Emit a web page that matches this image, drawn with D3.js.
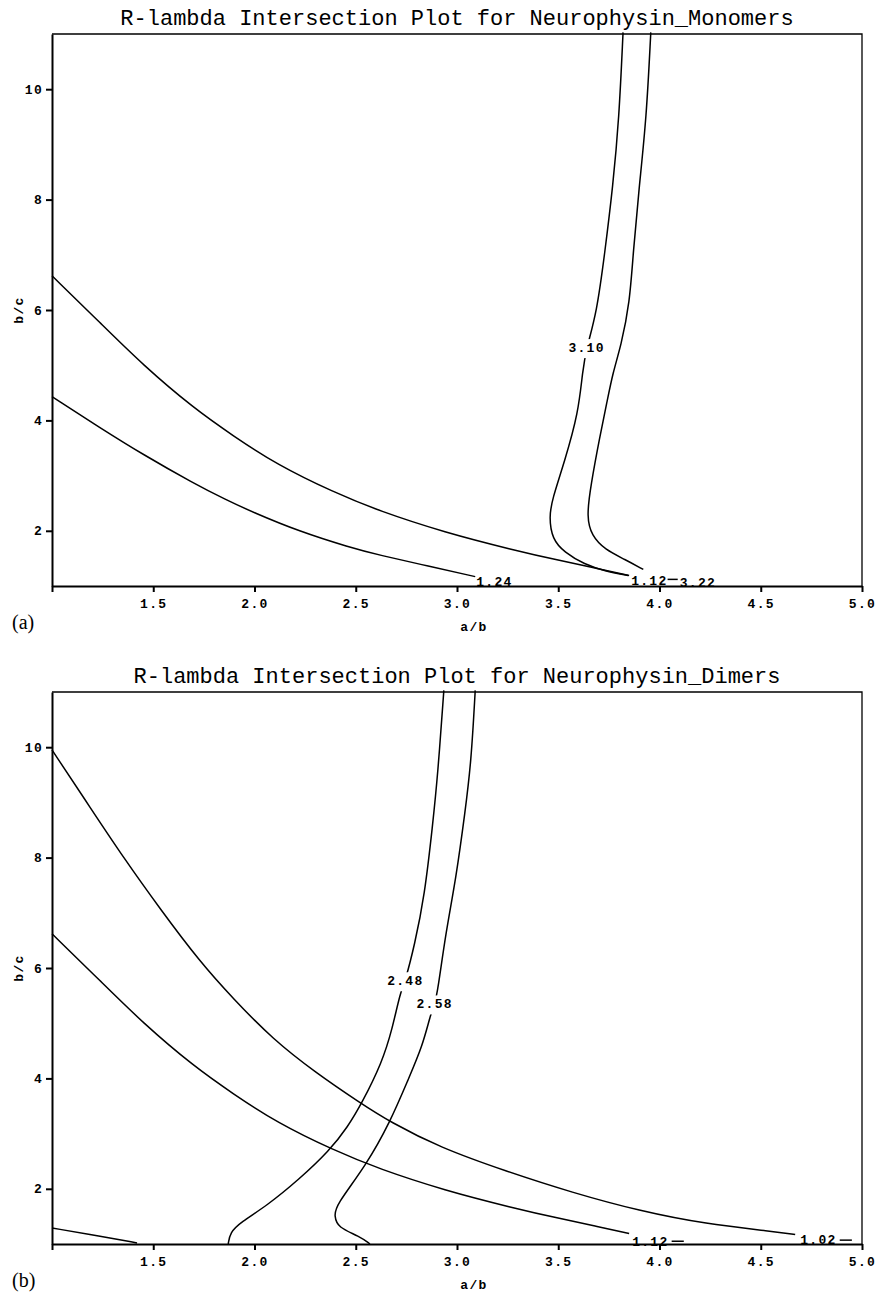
<!DOCTYPE html>
<html>
<head>
<meta charset="utf-8">
<title>R-lambda Intersection Plots</title>
<script src="https://cdn.jsdelivr.net/npm/d3@7"></script>
<style>
  body { margin: 0; background: #fff; }
  svg { display: block; }
  .curve { fill: none; stroke: #000; stroke-width: 1.5; }
  .frame { fill: none; stroke: #000; stroke-width: 1.3; }
  .axis path, .axis line { stroke: #000; stroke-width: 2; }
  .title { font-family: "Liberation Mono", monospace; font-size: 22px; }
  .axis text, .clabel, .axislabel {
    font-family: "Liberation Mono", monospace; font-weight: bold;
    font-size: 13px; letter-spacing: 1.3px; fill: #000;
  }
  .tag { font-family: "Liberation Serif", serif; font-size: 20px; }
</style>
</head>
<body>
<svg id="chart" width="878" height="1294"></svg>
<script>
// axis ticks (a/b and b/c)
var xTicks = [1.0, 1.5, 2.0, 2.5, 3.0, 3.5, 4.0, 4.5, 5.0];
var yTicks = [2, 4, 6, 8, 10];

// contour 1.12 appears in both plots
var contour112 = [[1.0, 6.62], [1.24, 5.76], [1.45, 5.00], [1.70, 4.22], [1.895, 3.72], [2.11, 3.20],
  [2.39, 2.70], [2.615, 2.36], [2.94, 1.97], [3.27, 1.66], [3.52, 1.45], [3.68, 1.33], [3.85, 1.19]];

// (a) monomers
var monoContour124 = [[1.0, 4.43], [1.24, 3.86], [1.45, 3.38], [1.70, 2.86], [1.86, 2.56], [1.99, 2.34],
  [2.22, 1.99], [2.47, 1.70], [2.615, 1.56], [2.86, 1.36], [3.09, 1.17]];
var monoContour310 = [[3.82, 11.03], [3.80, 9.45], [3.77, 8.25], [3.73, 7.04], [3.69, 5.95], [3.64, 5.32],
  [3.62, 4.90], [3.60, 4.14], [3.53, 3.24], [3.47, 2.57], [3.455, 2.25], [3.47, 1.85], [3.53, 1.61],
  [3.63, 1.39], [3.73, 1.27], [3.845, 1.19]];
var monoContour322 = [[3.957, 11.03], [3.935, 9.45], [3.90, 8.25], [3.87, 7.04], [3.853, 6.13], [3.81, 5.35],
  [3.77, 4.87], [3.74, 4.32], [3.706, 3.72], [3.66, 2.81], [3.64, 2.25], [3.665, 1.91], [3.73, 1.66],
  [3.83, 1.48], [3.92, 1.30]];
var monoTails = [[[4.04, 1.12], [4.09, 1.12]]];
var monoLabels = [["3.10", 3.64, 5.32], ["1.24", 3.185, 1.085], ["1.12", 3.95, 1.10], ["3.22", 4.19, 1.07]];

// (b) dimers
var dimerContour102 = [[1.0, 9.95], [1.19, 8.90], [1.353, 8.00], [1.534, 7.07], [1.731, 6.11], [1.896, 5.44],
  [2.09, 4.71], [2.30, 4.11], [2.52, 3.56], [2.67, 3.21], [2.914, 2.75], [3.24, 2.32],
  [3.57, 1.93], [3.90, 1.60], [4.23, 1.36], [4.56, 1.23], [4.67, 1.17]];
var dimerContourLow = [[1.0, 1.29], [1.24, 1.14], [1.42, 1.02]];
var dimerContour248 = [[2.935, 11.03], [2.905, 9.5], [2.88, 8.6], [2.84, 7.31], [2.79, 6.41], [2.745, 5.77],
  [2.72, 5.56], [2.68, 4.89], [2.63, 4.29], [2.53, 3.55], [2.46, 3.12], [2.37, 2.69], [2.22, 2.17],
  [2.06, 1.69], [1.93, 1.39], [1.88, 1.21], [1.87, 1.0]];
var dimerContour258 = [[3.09, 11.03], [3.07, 9.73], [3.04, 8.83], [2.995, 7.62], [2.945, 6.65], [2.905, 5.59],
  [2.89, 5.35], [2.87, 5.17], [2.83, 4.59], [2.76, 3.99], [2.67, 3.21], [2.55, 2.42], [2.40, 1.69],
  [2.395, 1.51], [2.41, 1.30], [2.52, 1.14], [2.57, 1.0]];
var dimerTails = [[[4.06, 1.05], [4.12, 1.05]], [[4.89, 1.07], [4.95, 1.07]]];
var dimerLabels = [["2.48", 2.745, 5.77], ["2.58", 2.89, 5.35], ["1.12", 3.955, 1.05], ["1.02", 4.785, 1.09]];

var panels = [
  { title: "R-lambda Intersection Plot for Neurophysin_Monomers", tag: "(a)", top: 34, bottom: 586,
    curves: [contour112, monoContour124, monoContour310, monoContour322],
    tails: monoTails, labels: monoLabels },
  { title: "R-lambda Intersection Plot for Neurophysin_Dimers", tag: "(b)", top: 692, bottom: 1244,
    curves: [dimerContour102, contour112, dimerContourLow, dimerContour248, dimerContour258],
    tails: dimerTails, labels: dimerLabels }
];

var svg = d3.select("#chart");
var left = 52, right = 862;

panels.forEach(function(p) {
  var g = svg.append("g");
  var x = d3.scaleLinear().domain([1, 5]).range([left, right]);
  var y = d3.scaleLinear().domain([1, 11]).range([p.bottom, p.bottom - 552]);
  var line = d3.line()
    .x(function(d) { return x(d[0]); })
    .y(function(d) { return y(d[1]); })
    .curve(d3.curveBasis);

  // frame (top and right)
  g.append("path")
    .attr("class", "frame")
    .attr("d", "M" + left + "," + p.top + "H" + right + "V" + p.bottom);

  // contours
  g.selectAll(".curve")
    .data(p.curves.concat(p.tails))
    .enter().append("path")
      .attr("class", "curve")
      .attr("d", line);

  // axes
  var xAxis = d3.axisBottom(x)
    .tickValues(xTicks)
    .tickSize(6)
    .tickSizeOuter(0)
    .tickFormat(function(d) { return d === 1 ? "" : d3.format(".1f")(d); });
  g.append("g")
    .attr("class", "axis")
    .attr("transform", "translate(0," + p.bottom + ")")
    .call(xAxis)
    .selectAll("text")
      .attr("y", 22)
      .attr("dy", null);

  var yAxis = d3.axisLeft(y)
    .tickValues(yTicks)
    .tickSize(6)
    .tickSizeOuter(0)
    .tickPadding(3)
    .tickFormat(d3.format("d"));
  g.append("g")
    .attr("class", "axis")
    .attr("transform", "translate(" + left + ",0)")
    .call(yAxis);

  // contour labels
  p.labels.forEach(function(l) {
    var inline = l[2] > 1.5;
    var lg = g.append("g");
    var t = lg.append("text")
      .attr("class", "clabel")
      .attr("x", x(l[1]))
      .attr("y", y(l[2]))
      .attr("text-anchor", "middle")
      .attr("dy", "0.35em")
      .text(l[0]);
    if (inline) {
      var b = t.node().getBBox();
      lg.insert("rect", "text")
        .attr("x", b.x - 3)
        .attr("y", b.y - 2)
        .attr("width", b.width + 6)
        .attr("height", b.height + 4)
        .attr("fill", "#fff");
    }
  });

  // titles and axis labels
  g.append("text")
    .attr("class", "title")
    .attr("x", (left + right) / 2)
    .attr("y", p.top - 9)
    .attr("text-anchor", "middle")
    .text(p.title);
  g.append("text")
    .attr("class", "axislabel")
    .attr("x", 474)
    .attr("y", p.bottom + 45)
    .attr("text-anchor", "middle")
    .text("a/b");
  g.append("text")
    .attr("class", "axislabel")
    .attr("transform", "translate(23," + ((p.top + p.bottom) / 2) + ") rotate(-90)")
    .attr("text-anchor", "middle")
    .text("b/c");
  g.append("text")
    .attr("class", "tag")
    .attr("x", 12)
    .attr("y", p.bottom + 43)
    .text(p.tag);
});
</script>
</body>
</html>
